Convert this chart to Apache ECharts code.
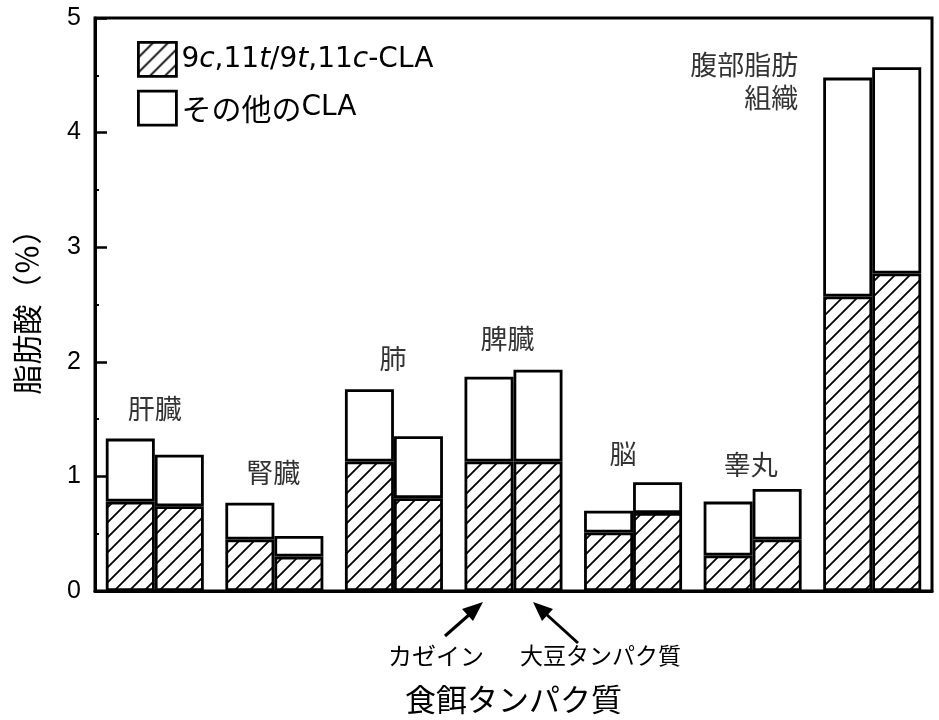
<!DOCTYPE html>
<html>
<head>
<meta charset="utf-8">
<script src="https://cdn.jsdelivr.net/npm/echarts@6/dist/echarts.min.js"></script>
<style>html,body{margin:0;padding:0;background:#fff}#c{width:939px;height:720px}</style>
</head>
<body>
<div id="c"></div>
<script>
// ---- data ----
var organs = ['肝臓', '腎臓', '肺', '脾臓', '脳', '睾丸', '腹部脂肪\n組織'];
var caseinCLA9c11t = [0.78, 0.45, 1.13, 1.13, 0.51, 0.31, 2.57];
var caseinTotal    = [1.33, 0.77, 1.76, 1.87, 0.70, 0.78, 4.48];
var soyCLA9c11t    = [0.74, 0.30, 0.81, 1.13, 0.68, 0.45, 2.77];
var soyTotal       = [1.19, 0.48, 1.35, 1.93, 0.95, 0.89, 4.57];
var seriesNames = ['9c,11t/9t,11c-CLA', 'その他のCLA'];
var yTicks = [0, 1, 2, 3, 4, 5];

function diff(a, b) { return a.map(function (v, i) { return +(v - b[i]).toFixed(3); }); }
var caseinOther = diff(caseinTotal, caseinCLA9c11t);
var soyOther = diff(soyTotal, soyCLA9c11t);

// hatch pattern
var s = 15;
var cv = document.createElement('canvas');
cv.width = s; cv.height = s;
var ctx = cv.getContext('2d');
ctx.fillStyle = '#fff'; ctx.fillRect(0, 0, s, s);
ctx.strokeStyle = '#000'; ctx.lineWidth = 1.8;
ctx.beginPath();
ctx.moveTo(-2, s + 2); ctx.lineTo(s + 2, -2);
ctx.moveTo(-2, 2); ctx.lineTo(2, -2);
ctx.moveTo(s - 2, s + 2); ctx.lineTo(s + 2, s - 2);
ctx.stroke();
var hatch = { image: cv, repeat: 'repeat' };

var jp = '"Noto Sans CJK JP", "Noto Sans", sans-serif';
var lat = '"DejaVu Sans", "Liberation Sans", sans-serif';

var hatchStyle = { color: hatch, borderColor: '#000', borderWidth: 2.8 };
var whiteStyle = { color: '#fff', borderColor: '#000', borderWidth: 2.8 };

var labelAnchors = [
  { y: 1.59, dx: 0 },
  { y: 1.03, dx: -1 },
  { y: 2.03, dx: -1 },
  { y: 2.20, dx: -6 },
  { y: 1.20, dx: -10 },
  { y: 1.10, dx: -2 },
  { y: 4.45, dx: -74, align: 'right' }
];

var chart = echarts.init(document.getElementById('c'));
chart.setOption({
  animation: false,
  backgroundColor: '#fff',
  grid: { left: 95, right: 7, top: 18, bottom: 127, show: true, borderColor: '#000', borderWidth: 3 },
  legend: {
    left: 137, top: 41, orient: 'vertical', padding: 0,
    icon: 'rect',
    itemWidth: 38, itemHeight: 34, itemGap: 12,
    data: seriesNames,
    itemStyle: { borderColor: '#000', borderWidth: 2.8 },
    formatter: function (n) {
      if (n === seriesNames[0]) return '9{i|c},11{i|t}/9{i|t},11{i|c}-CLA';
      return '{j|' + n.replace('CLA', '') + '}CLA';
    },
    textStyle: {
      color: '#000', fontSize: 28, fontFamily: lat,
      rich: {
        i: { fontStyle: 'italic', fontSize: 28, fontFamily: lat, color: '#000' },
        j: { fontSize: 30, fontFamily: jp, color: '#000' }
      }
    }
  },
  xAxis: {
    type: 'category', data: organs,
    axisLine: { lineStyle: { color: '#000', width: 3 } },
    axisTick: { show: false }, axisLabel: { show: false },
    name: '食餌タンパク質', nameLocation: 'middle', nameGap: 93,
    nameTextStyle: { fontSize: 31, fontFamily: jp, color: '#000' }
  },
  yAxis: {
    type: 'value', min: yTicks[0], max: yTicks[yTicks.length - 1], interval: 1,
    splitLine: { show: false },
    axisLine: { show: true, lineStyle: { color: '#000', width: 3 } },
    axisTick: { show: true, inside: true, length: 12, lineStyle: { color: '#000', width: 2.5 } },
    minorTick: { show: true, splitNumber: 2, length: 4, lineStyle: { color: '#000', width: 2 } },
    axisLabel: { fontSize: 25, color: '#000', fontFamily: '"Liberation Sans", Arial, sans-serif', margin: 14 },
    name: '脂肪酸（％）', nameLocation: 'middle', nameGap: 53,
    nameTextStyle: { fontSize: 30, fontFamily: jp, color: '#000' }
  },
  series: [
    { name: seriesNames[0], type: 'bar', stack: 'casein', data: caseinCLA9c11t, barWidth: 49, barGap: '0%', itemStyle: hatchStyle },
    { name: seriesNames[1], type: 'bar', stack: 'casein', data: caseinOther, barWidth: 49, barGap: '0%', itemStyle: whiteStyle },
    { name: seriesNames[0], type: 'bar', stack: 'soy', data: soyCLA9c11t, barWidth: 49, barGap: '0%', itemStyle: hatchStyle },
    { name: seriesNames[1], type: 'bar', stack: 'soy', data: soyOther, barWidth: 49, barGap: '0%', itemStyle: whiteStyle },
    {
      type: 'scatter', symbolSize: 0, silent: true, z: 10,
      data: organs.map(function (o, i) {
        var a = labelAnchors[i];
        return {
          value: [i, a.y], name: o,
          label: { offset: [a.dx, 0], align: a.align || 'center' }
        };
      }),
      label: {
        show: true, position: 'inside', formatter: '{b}',
        fontSize: 27, fontFamily: jp, color: '#000', lineHeight: 33
      }
    }
  ],
  graphic: [
    { type: 'line', shape: { x1: 445, y1: 636, x2: 470, y2: 614 }, style: { stroke: '#000', lineWidth: 3 } },
    { type: 'polygon', shape: { points: [[483, 602], [473, 621], [462, 609]] }, style: { fill: '#000' } },
    { type: 'line', shape: { x1: 578, y1: 643, x2: 546, y2: 614 }, style: { stroke: '#000', lineWidth: 3 } },
    { type: 'polygon', shape: { points: [[533, 602], [553, 609], [542, 621]] }, style: { fill: '#000' } },
    { type: 'text', left: 388, top: 644, style: { text: 'カゼイン', fontSize: 24, fontFamily: jp, fill: '#000' } },
    { type: 'text', left: 520, top: 644, style: { text: '大豆タンパク質', fontSize: 23, fontFamily: jp, fill: '#000' } }
  ]
});
</script>
</body>
</html>
